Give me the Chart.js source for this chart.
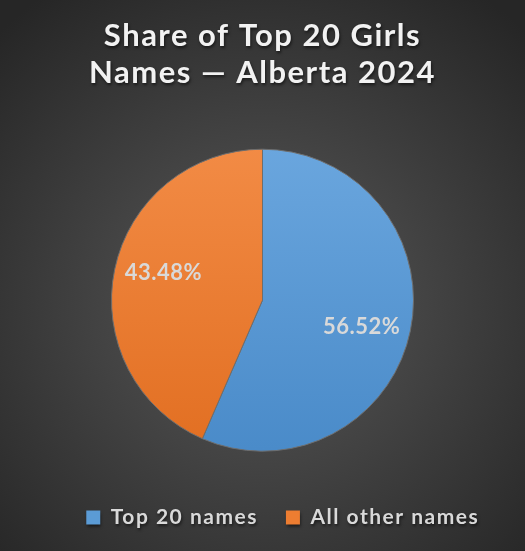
<!DOCTYPE html>
<html>
<head>
<meta charset="utf-8">
<script src="https://cdn.jsdelivr.net/npm/chart.js@4.4.1/dist/chart.umd.min.js"></script>
<style>
  html, body { margin: 0; padding: 0; background: #262626; }
  #wrap { width: 525px; height: 551px; }
</style>
</head>
<body>
<div id="wrap"><canvas id="pieChart" width="525" height="551"></canvas></div>
<script>
// Dữ liệu biểu đồ
const titleLines = ["Share of Top 20 Girls", "Names \u2014 Alberta 2024"];
const categories = ["Top 20 names", "All other names"];
const shares = [56.52, 43.48];
const baseColors = ["#5B9BD5", "#ED7D31"];
const topColors = ["#6aa6de", "#f28b45"];
const bottomColors = ["#4a8bc9", "#e26f22"];

// Nền gradient tròn kiểu Excel + khoảng cách chữ + bóng chữ tiêu đề
const backgroundPlugin = {
  id: "bgGradient",
  beforeInit(chart) {
    chart.ctx.letterSpacing = "1.5px";
  },
  beforeDraw(chart) {
    const ctx = chart.ctx;
    const w = chart.width, h = chart.height;
    const g = ctx.createRadialGradient(w / 2, h * 0.55, 0, w / 2, h * 0.55, w * 0.72);
    g.addColorStop(0, "#595959");
    g.addColorStop(1, "#262626");
    ctx.save();
    ctx.fillStyle = g;
    ctx.fillRect(0, 0, w, h);
    ctx.restore();
    ctx.letterSpacing = "1.5px";
    ctx.shadowColor = "rgba(0,0,0,0.55)";
    ctx.shadowBlur = 3;
    ctx.shadowOffsetX = 1;
    ctx.shadowOffsetY = 2;
  },
  beforeDatasetsDraw(chart) {
    const ctx = chart.ctx;
    ctx.shadowColor = "rgba(0,0,0,0)";
    ctx.shadowBlur = 0;
    ctx.shadowOffsetX = 0;
    ctx.shadowOffsetY = 0;
  }
};

// Nhãn phần trăm trong từng lát
const sliceLabels = {
  id: "sliceLabels",
  afterDatasetsDraw(chart) {
    const ctx = chart.ctx;
    const meta = chart.getDatasetMeta(0);
    ctx.save();
    ctx.letterSpacing = "0.5px";
    ctx.font = "bold 22px Lato";
    ctx.fillStyle = "#d9d9d9";
    ctx.textAlign = "center";
    ctx.textBaseline = "middle";
    meta.data.forEach((arc, i) => {
      const mid = (arc.startAngle + arc.endAngle) / 2 + 0.06;
      const r = arc.outerRadius * 0.68;
      const x = arc.x + Math.cos(mid) * r;
      const y = arc.y + Math.sin(mid) * r;
      ctx.fillText(shares[i].toFixed(2) + "%", x, y);
    });
    ctx.restore();
  }
};

function sliceFill(context) {
  const chart = context.chart;
  const area = chart.chartArea;
  const i = context.dataIndex;
  if (!area) return baseColors[i];
  const g = chart.ctx.createLinearGradient(0, 147, 0, 449);
  g.addColorStop(0, topColors[i]);
  g.addColorStop(1, bottomColors[i]);
  return g;
}

new Chart(document.getElementById("pieChart"), {
  type: "pie",
  data: {
    labels: categories,
    datasets: [{
      data: shares,
      backgroundColor: sliceFill,
      borderColor: "#6e6e6e",
      borderWidth: 1,
      radius: 151
    }]
  },
  options: {
    responsive: false,
    animation: false,
    layout: { padding: { top: 10, bottom: 13, left: 0, right: 0 } },
    plugins: {
      title: {
        display: true,
        text: titleLines,
        color: "#f2f2f2",
        font: { family: "Lato", size: 31, weight: "bold", lineHeight: 1.2 },
        padding: { top: 7, bottom: 30 }
      },
      legend: {
        position: "bottom",
        labels: {
          color: "#d9d9d9",
          font: { family: "Lato", size: 21, weight: "bold" },
          boxWidth: 14,
          boxHeight: 14,
          padding: 28,
          generateLabels(chart) {
            return categories.map((c, i) => ({
              text: c,
              fillStyle: baseColors[i],
              strokeStyle: baseColors[i],
              lineWidth: 0,
              fontColor: "#d9d9d9",
              index: i
            }));
          }
        }
      },
      tooltip: { enabled: false }
    }
  },
  plugins: [backgroundPlugin, sliceLabels]
});
</script>
</body>
</html>
